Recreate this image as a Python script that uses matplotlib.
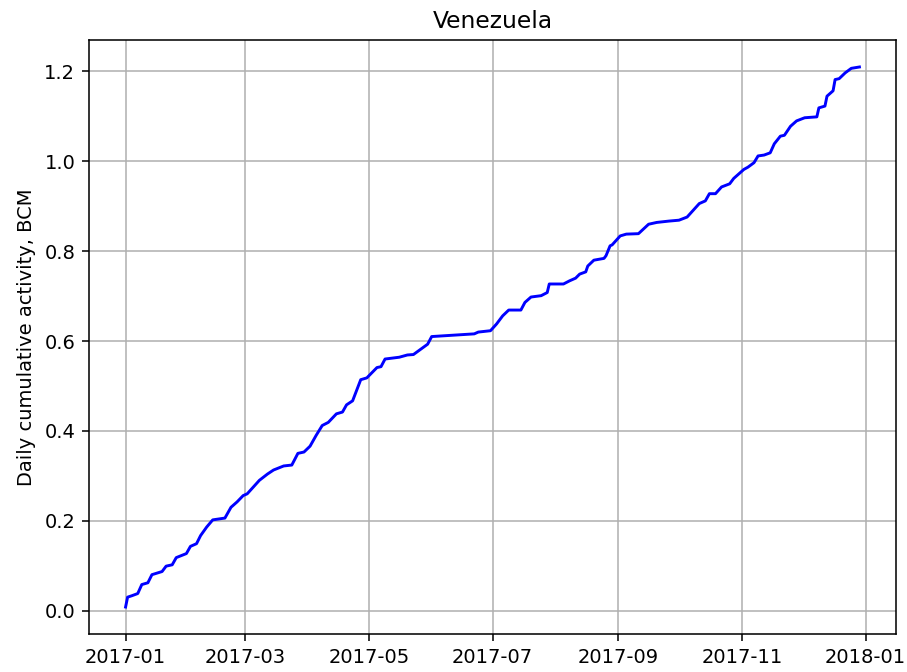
import numpy as np
import pandas as pd
import matplotlib
matplotlib.use('Agg')
from matplotlib import pyplot as plt
import matplotlib.dates as mdates

country = 'Venezuela'
start_date = '2017-01-01'

# days since start, cumulative activity (BCM)
days = [0, 1, 3, 6, 8, 11, 13, 18, 20, 23, 25, 30, 32, 35, 37, 40, 43, 49, 52, 55,
        58, 60, 63, 66, 70, 73, 78, 82, 85, 88, 91, 94, 97, 100, 104, 107, 109, 112,
        116, 119, 124, 126, 128, 135, 139, 142, 149, 151, 172, 174, 180, 183, 186,
        189, 195, 197, 200, 205, 208, 209, 216, 219, 222, 224, 227, 228, 231, 236,
        237, 239, 240, 243, 244, 247, 253, 258, 262, 268, 273, 277, 280, 283, 286,
        288, 291, 294, 298, 300, 302, 305, 307, 310, 312, 315, 318, 320, 323, 325,
        328, 331, 335, 341, 342, 345, 346, 349, 350, 352, 355, 358, 362]
activity = [0.008, 0.030, 0.033, 0.038, 0.058, 0.062, 0.080, 0.087, 0.099, 0.102,
            0.118, 0.127, 0.143, 0.149, 0.167, 0.186, 0.202, 0.206, 0.230, 0.242,
            0.256, 0.260, 0.275, 0.290, 0.304, 0.313, 0.322, 0.324, 0.350, 0.353,
            0.366, 0.390, 0.412, 0.419, 0.438, 0.442, 0.458, 0.467, 0.514, 0.518,
            0.541, 0.543, 0.560, 0.564, 0.569, 0.570, 0.593, 0.610, 0.616, 0.620,
            0.623, 0.638, 0.656, 0.669, 0.669, 0.686, 0.698, 0.701, 0.708, 0.727,
            0.727, 0.734, 0.740, 0.749, 0.754, 0.767, 0.780, 0.784, 0.790, 0.812,
            0.814, 0.829, 0.834, 0.838, 0.839, 0.860, 0.864, 0.867, 0.869, 0.876,
            0.891, 0.906, 0.912, 0.928, 0.928, 0.943, 0.950, 0.962, 0.970, 0.982,
            0.987, 0.997, 1.012, 1.014, 1.019, 1.039, 1.056, 1.058, 1.078, 1.090,
            1.097, 1.099, 1.119, 1.123, 1.145, 1.157, 1.182, 1.184, 1.197, 1.207,
            1.210]

dates = pd.Timestamp(start_date) + pd.to_timedelta(days, unit='D')

dpi = 140
fig, ax = plt.subplots(figsize=(907 / dpi, 672 / dpi), dpi=dpi)
fig.subplots_adjust(left=0.098, right=0.988, top=0.9405, bottom=0.0565)

ax.plot(dates, activity, color='blue')
ax.set_title(country)
ax.set_ylabel('Daily cumulative activity, BCM')
ax.xaxis.set_major_locator(mdates.MonthLocator(interval=2))
ax.xaxis.set_major_formatter(mdates.DateFormatter('%Y-%m'))
ax.grid(True)

plt.savefig('out.png', dpi=dpi)
